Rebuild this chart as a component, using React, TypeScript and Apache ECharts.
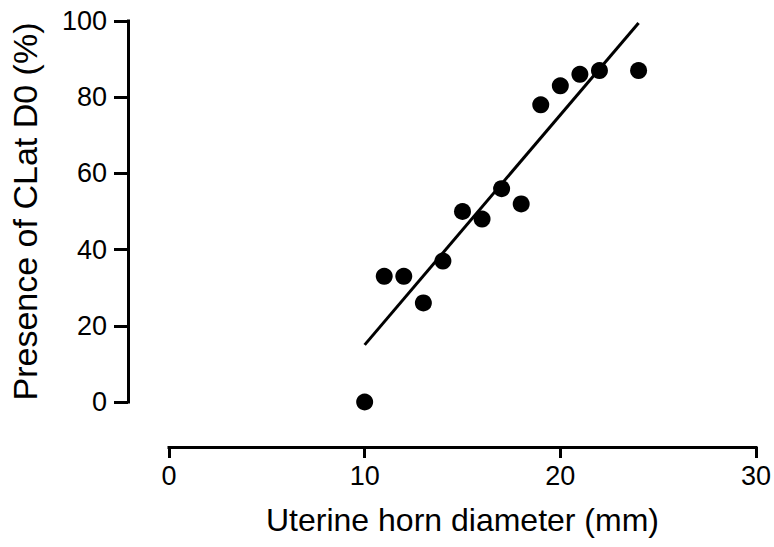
import React, { useEffect, useRef } from "react";
import * as echarts from "echarts";

const diameterMm = [10, 11, 12, 13, 14, 15, 16, 17, 18, 19, 20, 21, 22, 24];
const presencePct = [0, 33, 33, 26, 37, 50, 48, 56, 52, 78, 83, 86, 87, 87];
const fitX = [10, 24];
const fitY = [15, 99.5];
const xTicks = [0, 10, 20, 30];
const yTicks = [0, 20, 40, 60, 80, 100];

const FONT = "Arial, 'Liberation Sans', sans-serif";

export default function App() {
  const ref = useRef<HTMLDivElement>(null);
  useEffect(() => {
    if (!ref.current) return;
    const chart = echarts.init(ref.current, null, { renderer: "svg" });
    const axisLine = { show: true, onZero: false, lineStyle: { color: "#000", width: 3, cap: "square" } };
    chart.setOption({
      animation: false,
      backgroundColor: "#fff",
      grid: { left: 168, right: 18, top: 21, bottom: 145, containLabel: false },
      xAxis: {
        type: "value",
        min: xTicks[0],
        max: xTicks[xTicks.length - 1],
        interval: xTicks[1] - xTicks[0],
        offset: 45,
        axisLine,
        axisTick: { show: true, length: 11, lineStyle: { color: "#000", width: 3 } },
        splitLine: { show: false },
        axisLabel: { color: "#000", fontSize: 27, fontFamily: FONT, margin: 15 },
        name: "Uterine horn diameter (mm)",
        nameLocation: "middle",
        nameGap: 57,
        nameTextStyle: { color: "#000", fontSize: 32, fontFamily: FONT },
      },
      yAxis: {
        type: "value",
        min: yTicks[0],
        max: yTicks[yTicks.length - 1],
        interval: yTicks[1] - yTicks[0],
        offset: 41,
        axisLine,
        axisTick: { show: true, length: 14, lineStyle: { color: "#000", width: 3 } },
        splitLine: { show: false },
        axisLabel: { color: "#000", fontSize: 27, fontFamily: FONT, margin: 21 },
        name: "Presence of CLat D0 (%)",
        nameLocation: "middle",
        nameGap: 86,
        nameTextStyle: { color: "#000", fontSize: 34, fontFamily: FONT },
      },
      series: [
        {
          type: "line",
          data: fitX.map((x, i) => [x, fitY[i]]),
          showSymbol: false,
          symbol: "none",
          lineStyle: { color: "#000", width: 3 },
          z: 2,
        },
        {
          type: "scatter",
          data: diameterMm.map((x, i) => [x, presencePct[i]]),
          symbol: "circle",
          symbolSize: 17,
          itemStyle: { color: "#000", opacity: 1 },
          z: 3,
        },
      ],
    });
    return () => chart.dispose();
  }, []);
  return (
    <div
      ref={ref}
      style={{ position: "fixed", left: 0, top: 0, width: 774, height: 547, background: "#fff" }}
    />
  );
}
